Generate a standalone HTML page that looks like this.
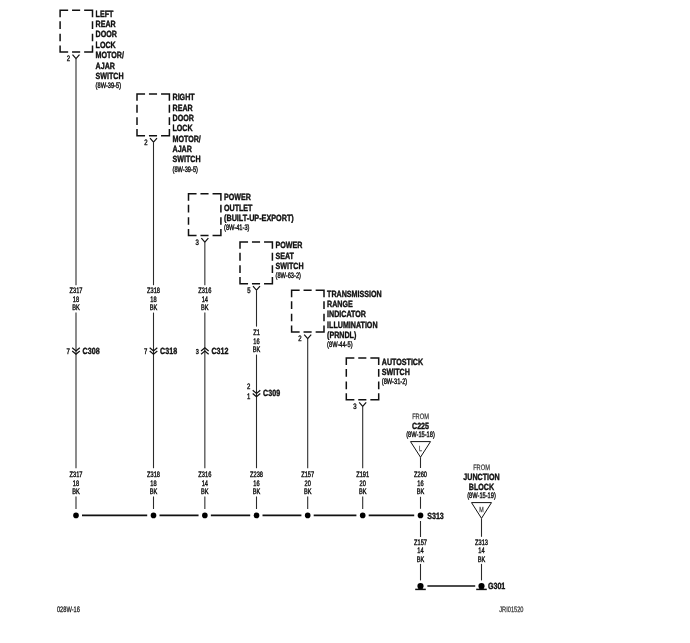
<!DOCTYPE html>
<html><head><meta charset="utf-8"><title>Wiring Diagram</title>
<style>
html,body{margin:0;padding:0;background:#fff;}
body{width:690px;height:643px;overflow:hidden;}
svg{display:block;font-family:"Liberation Sans",sans-serif;text-rendering:geometricPrecision;}
.t{filter:blur(0.3px);}
</style></head><body>
<svg width="690" height="643" viewBox="0 0 690 643">
<rect width="690" height="643" fill="#fff"/>
<g><path d="M60.10 10.30L67.40 10.30M72.80 10.30L79.40 10.30M84.90 10.30L92.50 10.30M60.10 52.05L67.40 52.05M72.80 52.05L79.40 52.05M84.90 52.05L92.50 52.05M60.10 10.30L60.10 16.40M60.10 21.90L60.10 28.30M60.10 34.50L60.10 40.60M60.10 46.25L60.10 52.05M92.50 10.30L92.50 16.40M92.50 21.90L92.50 28.30M92.50 34.50L92.50 40.60M92.50 46.25L92.50 52.05" stroke="#111" stroke-width="1.5" stroke-linecap="square" fill="none"/>
<path d="M72.50 54.55L76.00 58.55L79.50 54.55" stroke="#111" stroke-width="1.2" fill="none"/>
<line x1="76.00" y1="58.65" x2="76.00" y2="285.20" stroke="#2a2a2a" stroke-width="1.08"/>
<line x1="76.00" y1="312.60" x2="76.00" y2="468.20" stroke="#2a2a2a" stroke-width="1.08"/>
<line x1="76.00" y1="496.50" x2="76.00" y2="509.00" stroke="#2a2a2a" stroke-width="1.08"/>
<path d="M72.20 347.70L76.00 351.00L79.80 347.70" stroke="#111" stroke-width="1.2" fill="none"/>
<path d="M72.20 351.00L76.00 354.30L79.80 351.00" stroke="#111" stroke-width="1.2" fill="none"/>
<circle cx="76.00" cy="515.40" r="2.8" fill="#000"/>
<path d="M137.00 93.90L144.30 93.90M149.70 93.90L156.30 93.90M161.80 93.90L169.40 93.90M137.00 135.65L144.30 135.65M149.70 135.65L156.30 135.65M161.80 135.65L169.40 135.65M137.00 93.90L137.00 100.00M137.00 105.50L137.00 111.90M137.00 118.10L137.00 124.20M137.00 129.85L137.00 135.65M169.40 93.90L169.40 100.00M169.40 105.50L169.40 111.90M169.40 118.10L169.40 124.20M169.40 129.85L169.40 135.65" stroke="#111" stroke-width="1.5" stroke-linecap="square" fill="none"/>
<path d="M150.00 138.15L153.50 142.15L157.00 138.15" stroke="#111" stroke-width="1.2" fill="none"/>
<line x1="153.50" y1="142.25" x2="153.50" y2="285.20" stroke="#2a2a2a" stroke-width="1.08"/>
<line x1="153.50" y1="312.60" x2="153.50" y2="468.20" stroke="#2a2a2a" stroke-width="1.08"/>
<line x1="153.50" y1="496.50" x2="153.50" y2="509.00" stroke="#2a2a2a" stroke-width="1.08"/>
<path d="M149.70 347.70L153.50 351.00L157.30 347.70" stroke="#111" stroke-width="1.2" fill="none"/>
<path d="M149.70 351.00L153.50 354.30L157.30 351.00" stroke="#111" stroke-width="1.2" fill="none"/>
<circle cx="153.50" cy="515.40" r="2.8" fill="#000"/>
<path d="M188.50 193.80L195.80 193.80M201.20 193.80L207.80 193.80M213.30 193.80L220.90 193.80M188.50 235.55L195.80 235.55M201.20 235.55L207.80 235.55M213.30 235.55L220.90 235.55M188.50 193.80L188.50 199.90M188.50 205.40L188.50 211.80M188.50 218.00L188.50 224.10M188.50 229.75L188.50 235.55M220.90 193.80L220.90 199.90M220.90 205.40L220.90 211.80M220.90 218.00L220.90 224.10M220.90 229.75L220.90 235.55" stroke="#111" stroke-width="1.5" stroke-linecap="square" fill="none"/>
<path d="M201.35 238.05L204.85 242.05L208.35 238.05" stroke="#111" stroke-width="1.2" fill="none"/>
<line x1="204.85" y1="242.15" x2="204.85" y2="285.20" stroke="#2a2a2a" stroke-width="1.08"/>
<line x1="204.85" y1="312.60" x2="204.85" y2="468.20" stroke="#2a2a2a" stroke-width="1.08"/>
<line x1="204.85" y1="496.50" x2="204.85" y2="509.00" stroke="#2a2a2a" stroke-width="1.08"/>
<path d="M201.05 351.00L204.85 347.70L208.65 351.00" stroke="#111" stroke-width="1.2" fill="none"/>
<path d="M201.05 354.30L204.85 351.00L208.65 354.30" stroke="#111" stroke-width="1.2" fill="none"/>
<circle cx="204.85" cy="515.40" r="2.8" fill="#000"/>
<path d="M240.00 241.90L247.30 241.90M252.70 241.90L259.30 241.90M264.80 241.90L272.40 241.90M240.00 283.65L247.30 283.65M252.70 283.65L259.30 283.65M264.80 283.65L272.40 283.65M240.00 241.90L240.00 248.00M240.00 253.50L240.00 259.90M240.00 266.10L240.00 272.20M240.00 277.85L240.00 283.65M272.40 241.90L272.40 248.00M272.40 253.50L272.40 259.90M272.40 266.10L272.40 272.20M272.40 277.85L272.40 283.65" stroke="#111" stroke-width="1.5" stroke-linecap="square" fill="none"/>
<path d="M253.00 286.15L256.50 290.15L260.00 286.15" stroke="#111" stroke-width="1.2" fill="none"/>
<line x1="256.50" y1="290.25" x2="256.50" y2="326.60" stroke="#2a2a2a" stroke-width="1.08"/>
<line x1="256.50" y1="354.60" x2="256.50" y2="468.20" stroke="#2a2a2a" stroke-width="1.08"/>
<line x1="256.50" y1="496.50" x2="256.50" y2="509.00" stroke="#2a2a2a" stroke-width="1.08"/>
<path d="M252.70 390.20L256.50 393.50L260.30 390.20" stroke="#111" stroke-width="1.2" fill="none"/>
<path d="M252.70 393.50L256.50 396.80L260.30 393.50" stroke="#111" stroke-width="1.2" fill="none"/>
<circle cx="256.50" cy="515.40" r="2.8" fill="#000"/>
<path d="M291.60 290.30L298.90 290.30M304.30 290.30L310.90 290.30M316.40 290.30L324.00 290.30M291.60 332.05L298.90 332.05M304.30 332.05L310.90 332.05M316.40 332.05L324.00 332.05M291.60 290.30L291.60 296.40M291.60 301.90L291.60 308.30M291.60 314.50L291.60 320.60M291.60 326.25L291.60 332.05M324.00 290.30L324.00 296.40M324.00 301.90L324.00 308.30M324.00 314.50L324.00 320.60M324.00 326.25L324.00 332.05" stroke="#111" stroke-width="1.5" stroke-linecap="square" fill="none"/>
<path d="M304.20 334.55L307.70 338.55L311.20 334.55" stroke="#111" stroke-width="1.2" fill="none"/>
<line x1="307.70" y1="338.65" x2="307.70" y2="468.20" stroke="#2a2a2a" stroke-width="1.08"/>
<line x1="307.70" y1="496.50" x2="307.70" y2="509.00" stroke="#2a2a2a" stroke-width="1.08"/>
<circle cx="307.70" cy="515.40" r="2.8" fill="#000"/>
<path d="M346.30 358.10L353.60 358.10M359.00 358.10L365.60 358.10M371.10 358.10L378.70 358.10M346.30 399.85L353.60 399.85M359.00 399.85L365.60 399.85M371.10 399.85L378.70 399.85M346.30 358.10L346.30 364.20M346.30 369.70L346.30 376.10M346.30 382.30L346.30 388.40M346.30 394.05L346.30 399.85M378.70 358.10L378.70 364.20M378.70 369.70L378.70 376.10M378.70 382.30L378.70 388.40M378.70 394.05L378.70 399.85" stroke="#111" stroke-width="1.5" stroke-linecap="square" fill="none"/>
<path d="M359.20 402.35L362.70 406.35L366.20 402.35" stroke="#111" stroke-width="1.2" fill="none"/>
<line x1="362.70" y1="406.45" x2="362.70" y2="468.20" stroke="#2a2a2a" stroke-width="1.08"/>
<line x1="362.70" y1="496.50" x2="362.70" y2="509.00" stroke="#2a2a2a" stroke-width="1.08"/>
<circle cx="362.70" cy="515.40" r="2.8" fill="#000"/>
<line x1="82.00" y1="515.40" x2="147.20" y2="515.40" stroke="#111" stroke-width="1.6"/>
<line x1="159.50" y1="515.40" x2="198.55" y2="515.40" stroke="#111" stroke-width="1.6"/>
<line x1="210.85" y1="515.40" x2="250.20" y2="515.40" stroke="#111" stroke-width="1.6"/>
<line x1="262.50" y1="515.40" x2="301.40" y2="515.40" stroke="#111" stroke-width="1.6"/>
<line x1="313.70" y1="515.40" x2="356.40" y2="515.40" stroke="#111" stroke-width="1.6"/>
<line x1="368.70" y1="515.40" x2="414.20" y2="515.40" stroke="#111" stroke-width="1.6"/>
<circle cx="420.50" cy="515.40" r="2.8" fill="#000"/>
<path d="M410.50 441.6L430.50 441.6L420.50 457.2Z" stroke="#111" stroke-width="1" fill="none"/>
<line x1="420.50" y1="457.20" x2="420.50" y2="468.00" stroke="#2a2a2a" stroke-width="1.08"/>
<line x1="420.50" y1="496.80" x2="420.50" y2="508.80" stroke="#2a2a2a" stroke-width="1.08"/>
<line x1="420.50" y1="521.00" x2="420.50" y2="537.00" stroke="#2a2a2a" stroke-width="1.08"/>
<line x1="420.50" y1="563.90" x2="420.50" y2="580.40" stroke="#2a2a2a" stroke-width="1.08"/>
<circle cx="420.50" cy="586.00" r="3.1" fill="#000"/>
<rect x="418.30" y="587.50" width="4.4" height="1.8" fill="#000"/>
<line x1="415.20" y1="589.40" x2="425.80" y2="589.40" stroke="#111" stroke-width="1.5"/>
<circle cx="481.50" cy="586.00" r="3.1" fill="#000"/>
<rect x="479.30" y="587.50" width="4.4" height="1.8" fill="#000"/>
<line x1="476.20" y1="589.40" x2="486.80" y2="589.40" stroke="#111" stroke-width="1.5"/>
<line x1="427.40" y1="586.00" x2="475.20" y2="586.00" stroke="#111" stroke-width="1.6"/>
<path d="M471.50 502.6L491.50 502.6L481.50 518.3Z" stroke="#111" stroke-width="1" fill="none"/>
<line x1="481.50" y1="518.30" x2="481.50" y2="536.80" stroke="#2a2a2a" stroke-width="1.08"/>
<line x1="481.50" y1="563.90" x2="481.50" y2="580.40" stroke="#2a2a2a" stroke-width="1.08"/></g>
<g class="t"><text transform="translate(95.60 16.75) scale(0.79 1)" font-size="9.0" font-weight="bold" stroke="#111" stroke-width="0.4" fill="#111">LEFT</text>
<text transform="translate(95.60 27.10) scale(0.79 1)" font-size="9.0" font-weight="bold" stroke="#111" stroke-width="0.4" fill="#111">REAR</text>
<text transform="translate(95.60 37.45) scale(0.79 1)" font-size="9.0" font-weight="bold" stroke="#111" stroke-width="0.4" fill="#111">DOOR</text>
<text transform="translate(95.60 47.80) scale(0.79 1)" font-size="9.0" font-weight="bold" stroke="#111" stroke-width="0.4" fill="#111">LOCK</text>
<text transform="translate(95.60 58.15) scale(0.79 1)" font-size="9.0" font-weight="bold" stroke="#111" stroke-width="0.4" fill="#111">MOTOR/</text>
<text transform="translate(95.60 68.50) scale(0.79 1)" font-size="9.0" font-weight="bold" stroke="#111" stroke-width="0.4" fill="#111">AJAR</text>
<text transform="translate(95.60 78.85) scale(0.79 1)" font-size="9.0" font-weight="bold" stroke="#111" stroke-width="0.4" fill="#111">SWITCH</text>
<text transform="translate(95.60 88.05) scale(0.72 1)" font-size="7.9" stroke="#111" stroke-width="0.42" fill="#111">(8W-39-5)</text>
<text transform="translate(70.00 61.05) scale(0.76 1)" font-size="7.9" stroke="#111" stroke-width="0.42" text-anchor="end" fill="#111">2</text>
<text transform="translate(76.00 293.30) scale(0.72 1)" font-size="7.9" stroke="#111" stroke-width="0.42" text-anchor="middle" fill="#111">Z317</text>
<text transform="translate(76.00 301.90) scale(0.72 1)" font-size="7.9" stroke="#111" stroke-width="0.42" text-anchor="middle" fill="#111">18</text>
<text transform="translate(76.00 310.20) scale(0.72 1)" font-size="7.9" stroke="#111" stroke-width="0.42" text-anchor="middle" fill="#111">BK</text>
<text transform="translate(76.00 476.90) scale(0.72 1)" font-size="7.9" stroke="#111" stroke-width="0.42" text-anchor="middle" fill="#111">Z317</text>
<text transform="translate(76.00 485.50) scale(0.72 1)" font-size="7.9" stroke="#111" stroke-width="0.42" text-anchor="middle" fill="#111">18</text>
<text transform="translate(76.00 493.80) scale(0.72 1)" font-size="7.9" stroke="#111" stroke-width="0.42" text-anchor="middle" fill="#111">BK</text>
<text transform="translate(82.60 354.40) scale(0.79 1)" font-size="9.0" font-weight="bold" stroke="#111" stroke-width="0.4" fill="#111">C308</text>
<text transform="translate(69.90 354.10) scale(0.76 1)" font-size="7.9" stroke="#111" stroke-width="0.42" text-anchor="end" fill="#111">7</text>
<text transform="translate(172.50 100.35) scale(0.79 1)" font-size="9.0" font-weight="bold" stroke="#111" stroke-width="0.4" fill="#111">RIGHT</text>
<text transform="translate(172.50 110.70) scale(0.79 1)" font-size="9.0" font-weight="bold" stroke="#111" stroke-width="0.4" fill="#111">REAR</text>
<text transform="translate(172.50 121.05) scale(0.79 1)" font-size="9.0" font-weight="bold" stroke="#111" stroke-width="0.4" fill="#111">DOOR</text>
<text transform="translate(172.50 131.40) scale(0.79 1)" font-size="9.0" font-weight="bold" stroke="#111" stroke-width="0.4" fill="#111">LOCK</text>
<text transform="translate(172.50 141.75) scale(0.79 1)" font-size="9.0" font-weight="bold" stroke="#111" stroke-width="0.4" fill="#111">MOTOR/</text>
<text transform="translate(172.50 152.10) scale(0.79 1)" font-size="9.0" font-weight="bold" stroke="#111" stroke-width="0.4" fill="#111">AJAR</text>
<text transform="translate(172.50 162.45) scale(0.79 1)" font-size="9.0" font-weight="bold" stroke="#111" stroke-width="0.4" fill="#111">SWITCH</text>
<text transform="translate(172.50 171.65) scale(0.72 1)" font-size="7.9" stroke="#111" stroke-width="0.42" fill="#111">(8W-39-5)</text>
<text transform="translate(147.50 144.65) scale(0.76 1)" font-size="7.9" stroke="#111" stroke-width="0.42" text-anchor="end" fill="#111">2</text>
<text transform="translate(153.50 293.30) scale(0.72 1)" font-size="7.9" stroke="#111" stroke-width="0.42" text-anchor="middle" fill="#111">Z318</text>
<text transform="translate(153.50 301.90) scale(0.72 1)" font-size="7.9" stroke="#111" stroke-width="0.42" text-anchor="middle" fill="#111">18</text>
<text transform="translate(153.50 310.20) scale(0.72 1)" font-size="7.9" stroke="#111" stroke-width="0.42" text-anchor="middle" fill="#111">BK</text>
<text transform="translate(153.50 476.90) scale(0.72 1)" font-size="7.9" stroke="#111" stroke-width="0.42" text-anchor="middle" fill="#111">Z318</text>
<text transform="translate(153.50 485.50) scale(0.72 1)" font-size="7.9" stroke="#111" stroke-width="0.42" text-anchor="middle" fill="#111">18</text>
<text transform="translate(153.50 493.80) scale(0.72 1)" font-size="7.9" stroke="#111" stroke-width="0.42" text-anchor="middle" fill="#111">BK</text>
<text transform="translate(160.10 354.40) scale(0.79 1)" font-size="9.0" font-weight="bold" stroke="#111" stroke-width="0.4" fill="#111">C318</text>
<text transform="translate(147.40 354.10) scale(0.76 1)" font-size="7.9" stroke="#111" stroke-width="0.42" text-anchor="end" fill="#111">7</text>
<text transform="translate(224.00 200.25) scale(0.79 1)" font-size="9.0" font-weight="bold" stroke="#111" stroke-width="0.4" fill="#111">POWER</text>
<text transform="translate(224.00 210.60) scale(0.79 1)" font-size="9.0" font-weight="bold" stroke="#111" stroke-width="0.4" fill="#111">OUTLET</text>
<text transform="translate(224.00 220.95) scale(0.803 1)" font-size="9.0" font-weight="bold" stroke="#111" stroke-width="0.4" fill="#111">(BUILT-UP-EXPORT)</text>
<text transform="translate(224.00 230.15) scale(0.72 1)" font-size="7.9" stroke="#111" stroke-width="0.42" fill="#111">(8W-41-3)</text>
<text transform="translate(198.85 244.55) scale(0.76 1)" font-size="7.9" stroke="#111" stroke-width="0.42" text-anchor="end" fill="#111">3</text>
<text transform="translate(204.85 293.30) scale(0.72 1)" font-size="7.9" stroke="#111" stroke-width="0.42" text-anchor="middle" fill="#111">Z316</text>
<text transform="translate(204.85 301.90) scale(0.72 1)" font-size="7.9" stroke="#111" stroke-width="0.42" text-anchor="middle" fill="#111">14</text>
<text transform="translate(204.85 310.20) scale(0.72 1)" font-size="7.9" stroke="#111" stroke-width="0.42" text-anchor="middle" fill="#111">BK</text>
<text transform="translate(204.85 476.90) scale(0.72 1)" font-size="7.9" stroke="#111" stroke-width="0.42" text-anchor="middle" fill="#111">Z316</text>
<text transform="translate(204.85 485.50) scale(0.72 1)" font-size="7.9" stroke="#111" stroke-width="0.42" text-anchor="middle" fill="#111">14</text>
<text transform="translate(204.85 493.80) scale(0.72 1)" font-size="7.9" stroke="#111" stroke-width="0.42" text-anchor="middle" fill="#111">BK</text>
<text transform="translate(211.45 354.40) scale(0.79 1)" font-size="9.0" font-weight="bold" stroke="#111" stroke-width="0.4" fill="#111">C312</text>
<text transform="translate(198.75 354.10) scale(0.76 1)" font-size="7.2" stroke="#111" stroke-width="0.42" text-anchor="end" fill="#111">3</text>
<text transform="translate(275.50 248.35) scale(0.79 1)" font-size="9.0" font-weight="bold" stroke="#111" stroke-width="0.4" fill="#111">POWER</text>
<text transform="translate(275.50 258.70) scale(0.79 1)" font-size="9.0" font-weight="bold" stroke="#111" stroke-width="0.4" fill="#111">SEAT</text>
<text transform="translate(275.50 269.05) scale(0.79 1)" font-size="9.0" font-weight="bold" stroke="#111" stroke-width="0.4" fill="#111">SWITCH</text>
<text transform="translate(275.50 278.25) scale(0.72 1)" font-size="7.9" stroke="#111" stroke-width="0.42" fill="#111">(8W-63-2)</text>
<text transform="translate(250.50 292.65) scale(0.76 1)" font-size="7.9" stroke="#111" stroke-width="0.42" text-anchor="end" fill="#111">5</text>
<text transform="translate(256.50 335.40) scale(0.72 1)" font-size="7.9" stroke="#111" stroke-width="0.42" text-anchor="middle" fill="#111">Z1</text>
<text transform="translate(256.50 344.00) scale(0.72 1)" font-size="7.9" stroke="#111" stroke-width="0.42" text-anchor="middle" fill="#111">16</text>
<text transform="translate(256.50 352.30) scale(0.72 1)" font-size="7.9" stroke="#111" stroke-width="0.42" text-anchor="middle" fill="#111">BK</text>
<text transform="translate(256.50 476.90) scale(0.72 1)" font-size="7.9" stroke="#111" stroke-width="0.42" text-anchor="middle" fill="#111">Z238</text>
<text transform="translate(256.50 485.50) scale(0.72 1)" font-size="7.9" stroke="#111" stroke-width="0.42" text-anchor="middle" fill="#111">16</text>
<text transform="translate(256.50 493.80) scale(0.72 1)" font-size="7.9" stroke="#111" stroke-width="0.42" text-anchor="middle" fill="#111">BK</text>
<text transform="translate(263.10 396.30) scale(0.79 1)" font-size="9.0" font-weight="bold" stroke="#111" stroke-width="0.4" fill="#111">C309</text>
<text transform="translate(250.30 389.30) scale(0.76 1)" font-size="7.9" stroke="#111" stroke-width="0.42" text-anchor="end" fill="#111">2</text>
<text transform="translate(250.30 399.10) scale(0.76 1)" font-size="7.9" stroke="#111" stroke-width="0.42" text-anchor="end" fill="#111">1</text>
<text transform="translate(327.10 296.75) scale(0.79 1)" font-size="9.0" font-weight="bold" stroke="#111" stroke-width="0.4" fill="#111">TRANSMISSION</text>
<text transform="translate(327.10 307.10) scale(0.79 1)" font-size="9.0" font-weight="bold" stroke="#111" stroke-width="0.4" fill="#111">RANGE</text>
<text transform="translate(327.10 317.45) scale(0.79 1)" font-size="9.0" font-weight="bold" stroke="#111" stroke-width="0.4" fill="#111">INDICATOR</text>
<text transform="translate(327.10 327.80) scale(0.79 1)" font-size="9.0" font-weight="bold" stroke="#111" stroke-width="0.4" fill="#111">ILLUMINATION</text>
<text transform="translate(327.10 338.15) scale(0.79 1)" font-size="9.0" font-weight="bold" stroke="#111" stroke-width="0.4" fill="#111">(PRNDL)</text>
<text transform="translate(327.10 347.35) scale(0.72 1)" font-size="7.9" stroke="#111" stroke-width="0.42" fill="#111">(8W-44-5)</text>
<text transform="translate(301.70 341.05) scale(0.76 1)" font-size="7.9" stroke="#111" stroke-width="0.42" text-anchor="end" fill="#111">2</text>
<text transform="translate(307.70 476.90) scale(0.72 1)" font-size="7.9" stroke="#111" stroke-width="0.42" text-anchor="middle" fill="#111">Z157</text>
<text transform="translate(307.70 485.50) scale(0.72 1)" font-size="7.9" stroke="#111" stroke-width="0.42" text-anchor="middle" fill="#111">20</text>
<text transform="translate(307.70 493.80) scale(0.72 1)" font-size="7.9" stroke="#111" stroke-width="0.42" text-anchor="middle" fill="#111">BK</text>
<text transform="translate(381.80 364.55) scale(0.79 1)" font-size="9.0" font-weight="bold" stroke="#111" stroke-width="0.4" fill="#111">AUTOSTICK</text>
<text transform="translate(381.80 374.90) scale(0.79 1)" font-size="9.0" font-weight="bold" stroke="#111" stroke-width="0.4" fill="#111">SWITCH</text>
<text transform="translate(381.80 384.10) scale(0.72 1)" font-size="7.9" stroke="#111" stroke-width="0.42" fill="#111">(8W-31-2)</text>
<text transform="translate(356.70 408.85) scale(0.76 1)" font-size="7.9" stroke="#111" stroke-width="0.42" text-anchor="end" fill="#111">3</text>
<text transform="translate(362.70 476.90) scale(0.72 1)" font-size="7.9" stroke="#111" stroke-width="0.42" text-anchor="middle" fill="#111">Z191</text>
<text transform="translate(362.70 485.50) scale(0.72 1)" font-size="7.9" stroke="#111" stroke-width="0.42" text-anchor="middle" fill="#111">20</text>
<text transform="translate(362.70 493.80) scale(0.72 1)" font-size="7.9" stroke="#111" stroke-width="0.42" text-anchor="middle" fill="#111">BK</text>
<text transform="translate(427.20 519.00) scale(0.79 1)" font-size="9.0" font-weight="bold" stroke="#111" stroke-width="0.4" fill="#111">S313</text>
<text transform="translate(420.50 418.70) scale(0.72 1)" font-size="7.9" stroke="#333" stroke-width="0.25" text-anchor="middle" fill="#333">FROM</text>
<text transform="translate(420.50 428.80) scale(0.79 1)" font-size="9.0" font-weight="bold" stroke="#111" stroke-width="0.4" text-anchor="middle" fill="#111">C225</text>
<text transform="translate(420.50 436.90) scale(0.72 1)" font-size="7.9" stroke="#111" stroke-width="0.42" text-anchor="middle" fill="#111">(8W-15-18)</text>
<text transform="translate(420.50 451.00) scale(0.72 1)" font-size="7.4" stroke="#333" stroke-width="0.25" text-anchor="middle" fill="#333">L</text>
<text transform="translate(420.50 476.90) scale(0.72 1)" font-size="7.9" stroke="#111" stroke-width="0.42" text-anchor="middle" fill="#111">Z260</text>
<text transform="translate(420.50 485.50) scale(0.72 1)" font-size="7.9" stroke="#111" stroke-width="0.42" text-anchor="middle" fill="#111">16</text>
<text transform="translate(420.50 493.80) scale(0.72 1)" font-size="7.9" stroke="#111" stroke-width="0.42" text-anchor="middle" fill="#111">BK</text>
<text transform="translate(420.50 544.60) scale(0.72 1)" font-size="7.9" stroke="#111" stroke-width="0.42" text-anchor="middle" fill="#111">Z157</text>
<text transform="translate(420.50 553.20) scale(0.72 1)" font-size="7.9" stroke="#111" stroke-width="0.42" text-anchor="middle" fill="#111">14</text>
<text transform="translate(420.50 561.50) scale(0.72 1)" font-size="7.9" stroke="#111" stroke-width="0.42" text-anchor="middle" fill="#111">BK</text>
<text transform="translate(487.90 589.30) scale(0.79 1)" font-size="9.0" font-weight="bold" stroke="#111" stroke-width="0.4" fill="#111">G301</text>
<text transform="translate(481.50 470.00) scale(0.72 1)" font-size="7.9" stroke="#333" stroke-width="0.25" text-anchor="middle" fill="#333">FROM</text>
<text transform="translate(481.50 480.10) scale(0.79 1)" font-size="9.0" font-weight="bold" stroke="#111" stroke-width="0.4" text-anchor="middle" fill="#111">JUNCTION</text>
<text transform="translate(481.50 489.90) scale(0.79 1)" font-size="9.0" font-weight="bold" stroke="#111" stroke-width="0.4" text-anchor="middle" fill="#111">BLOCK</text>
<text transform="translate(481.50 498.30) scale(0.72 1)" font-size="7.9" stroke="#111" stroke-width="0.42" text-anchor="middle" fill="#111">(8W-15-19)</text>
<text transform="translate(481.50 512.00) scale(0.72 1)" font-size="7.4" stroke="#333" stroke-width="0.25" text-anchor="middle" fill="#333">M</text>
<text transform="translate(481.50 544.60) scale(0.72 1)" font-size="7.9" stroke="#111" stroke-width="0.42" text-anchor="middle" fill="#111">Z313</text>
<text transform="translate(481.50 553.20) scale(0.72 1)" font-size="7.9" stroke="#111" stroke-width="0.42" text-anchor="middle" fill="#111">14</text>
<text transform="translate(481.50 561.50) scale(0.72 1)" font-size="7.9" stroke="#111" stroke-width="0.42" text-anchor="middle" fill="#111">BK</text>
<text transform="translate(56.90 612.20) scale(0.72 1)" font-size="7.9" stroke="#222" stroke-width="0.3" fill="#222">028W-16</text>
<text transform="translate(499.20 612.10) scale(0.72 1)" font-size="7.9" stroke="#333" stroke-width="0.25" fill="#333">JRI01520</text></g>
</svg>
</body></html>
